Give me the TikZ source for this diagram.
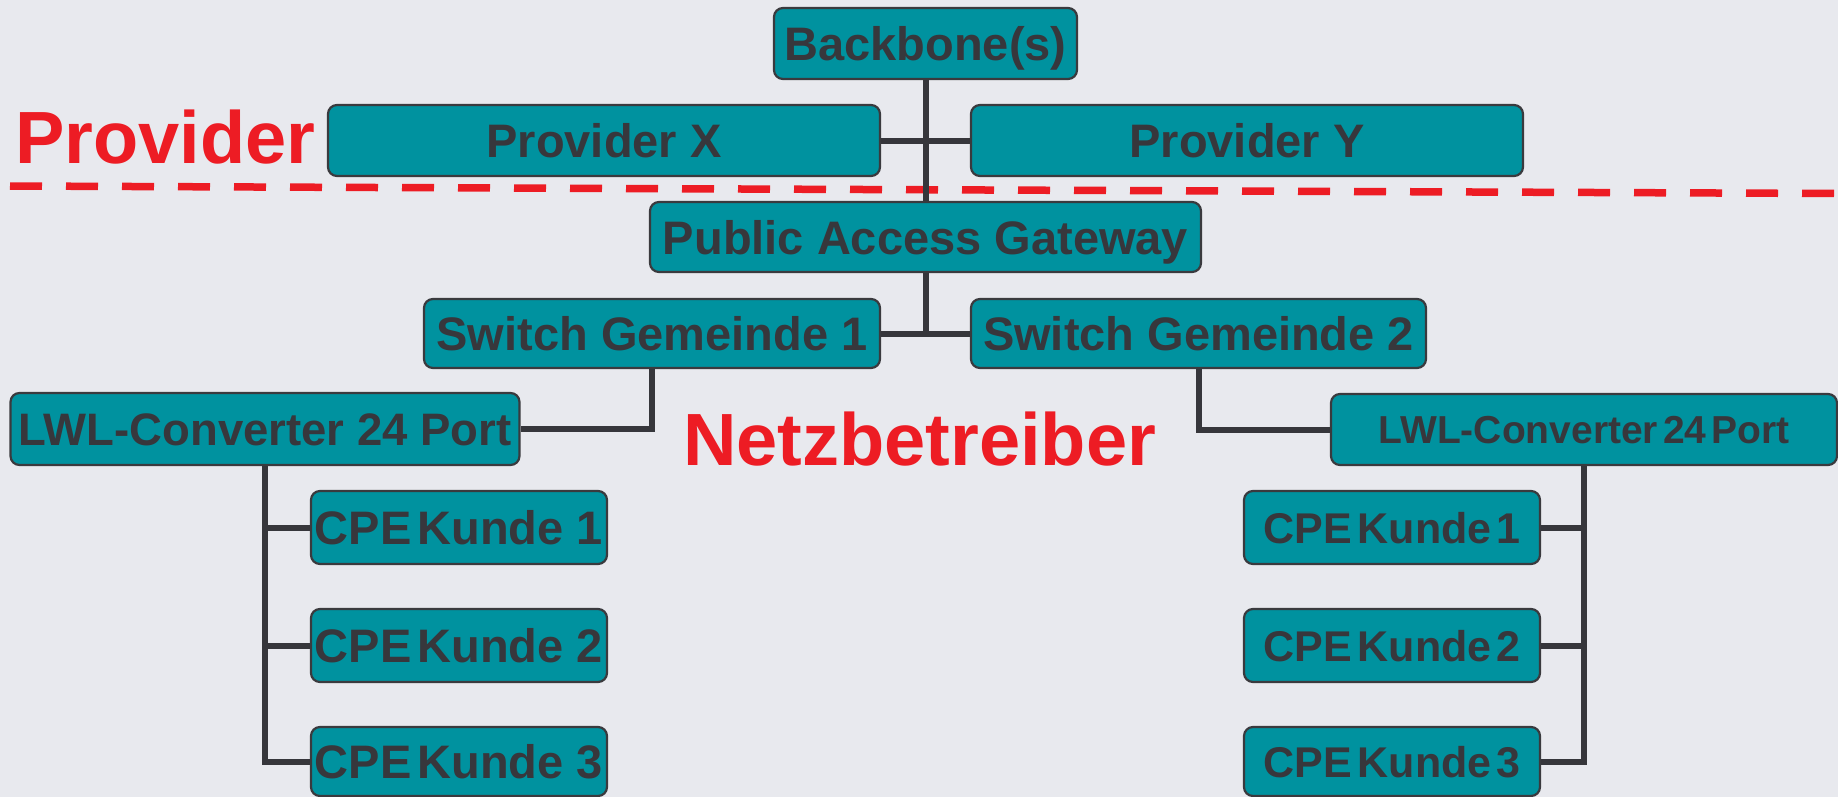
\documentclass[tikz,border=0pt]{standalone}
\usepackage{fontspec}
\setmainfont{Liberation Sans}
\definecolor{bgc}{RGB}{232,233,238}
\definecolor{boxfill}{RGB}{0,146,159}
\definecolor{boxline}{RGB}{58,58,62}
\definecolor{txt}{RGB}{55,55,60}
\definecolor{linec}{RGB}{54,54,59}
\definecolor{redc}{RGB}{237,28,36}
\begin{document}
\begin{tikzpicture}[x=1pt,y=-1pt,
  box/.style={draw=boxline, line width=2.2pt, fill=boxfill, rounded corners=9pt,
    inner sep=0pt, text=txt, font=\bfseries\fontsize{47}{50}\selectfont,
    text height=34pt, text depth=0pt, minimum height=71pt},
  smallbox/.style={box, font=\bfseries\fontsize{43}{46}\selectfont, text height=31pt},
  lwlbox/.style={box, font=\bfseries\fontsize{39}{42}\selectfont, text height=28pt},
  link/.style={draw=linec, line width=6pt},
  lbl/.style={inner sep=0pt, text=redc, font=\bfseries\fontsize{74}{80}\selectfont}]
\fill[bgc] (0,0) rectangle (1838,797);
\useasboundingbox (0,0) rectangle (1838,797);

% dashed separator
\draw[redc, line width=7.5pt, dash pattern=on 32pt off 24pt] (10,186) -- (1838,193.5);

% boxes
\node[box, minimum width=303pt] (bb) at (925.5,43.5) {Backbone(s)};
\node[box, minimum width=552pt] (px) at (604,140.5) {Provider X};
\node[box, minimum width=552pt] (py) at (1247,140.5) {Provider Y};
\node[box, minimum width=551pt, minimum height=70pt] (pag) at (925.5,237) {Public Access Gateway};
\node[box, minimum width=456pt, minimum height=69pt] (sw1) at (652,333.5) {Switch Gemeinde 1};
\node[box, minimum width=455pt, minimum height=69pt] (sw2) at (1198.5,333.5) {Switch Gemeinde 2};
\node[box, minimum width=509pt, minimum height=72pt, font=\bfseries\fontsize{45.5}{48}\selectfont, text height=33pt] (lwl1) at (265,429) {LWL-Converter 24 Port};
\node[lwlbox, minimum width=506pt, minimum height=71pt] (lwl2) at (1584,429.5) {LWL-Converter\hspace{5pt}24\hspace{5pt}Port};

\node[box, minimum width=296pt, minimum height=73pt] (cl1) at (459,527.5) {CPE\hspace{6pt}Kunde 1};
\node[box, minimum width=296pt, minimum height=73pt] (cl2) at (459,645.5) {CPE\hspace{6pt}Kunde 2};
\node[box, minimum width=296pt, minimum height=69pt] (cl3) at (459,761.5) {CPE\hspace{6pt}Kunde 3};
\node[smallbox, minimum width=296pt, minimum height=73pt] (cr1) at (1392,527.5) {CPE\hspace{6pt}Kunde\hspace{5pt}1};
\node[smallbox, minimum width=296pt, minimum height=73pt] (cr2) at (1392,645.5) {CPE\hspace{6pt}Kunde\hspace{5pt}2};
\node[smallbox, minimum width=296pt, minimum height=69pt] (cr3) at (1392,761.5) {CPE\hspace{6pt}Kunde\hspace{5pt}3};

% labels
\node[lbl, anchor=base west] (provlbl) at (15,163) {Provider};
\node[lbl, anchor=base west] (netzlbl) at (683,465) {Netzbetreiber};

% connectors
\draw[link] (bb.south) -- (pag.north);
\draw[link] (px.east) -- (py.west);
\draw[link] (pag.south) -- (pag.south |- sw1.east);
\draw[link] (sw1.east) -- (sw2.west);
\draw[link] (sw1.south) |- (lwl1.east);
\draw[link] (sw2.south) |- (lwl2.west);
\draw[link] (lwl1.south) |- (cl3.west);
\draw[link] (cl1.west) -- (lwl1.south |- cl1.west);
\draw[link] (cl2.west) -- (lwl1.south |- cl2.west);
\draw[link] (lwl2.south) |- (cr3.east);
\draw[link] (cr1.east) -- (lwl2.south |- cr1.east);
\draw[link] (cr2.east) -- (lwl2.south |- cr2.east);
\end{tikzpicture}
\end{document}
